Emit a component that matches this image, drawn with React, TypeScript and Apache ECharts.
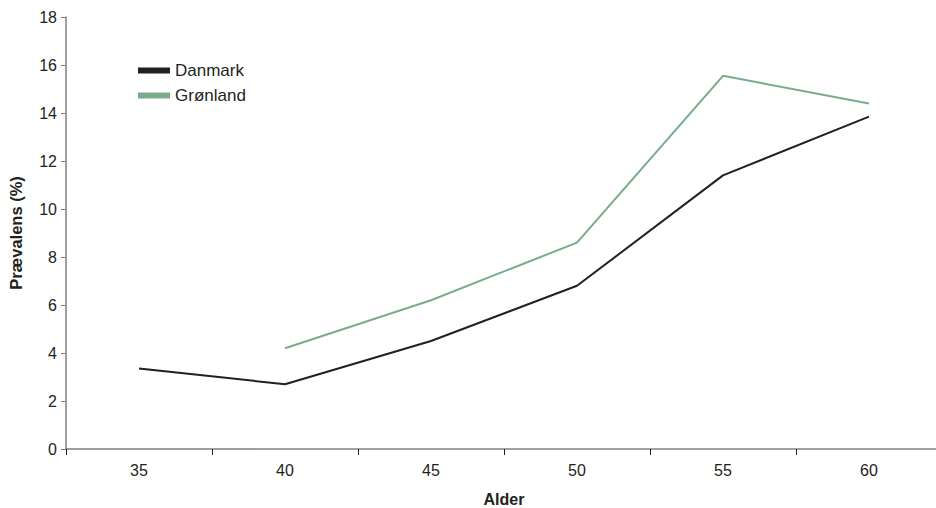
import React, { useEffect, useRef } from "react";
import * as echarts from "echarts";

const categories = ["35", "40", "45", "50", "55", "60"];
const danmark = [3.35, 2.7, 4.5, 6.8, 11.4, 13.85];
const gronland: (number | null)[] = [null, 4.2, 6.2, 8.6, 15.55, 14.4];

export default function App() {
  const ref = useRef<HTMLDivElement>(null);
  useEffect(() => {
    if (!ref.current) return;
    const chart = echarts.init(ref.current, null, { renderer: "svg" });
    const font = "'Liberation Sans', Arial, sans-serif";
    chart.setOption({
      animation: false,
      backgroundColor: "#ffffff",
      textStyle: { fontFamily: font },
      grid: { left: 66, right: -6, top: 17, bottom: 59, containLabel: false, outerBoundsMode: "none" },
      legend: {
        orient: "vertical",
        left: 138,
        top: 62,
        padding: 0,
        itemWidth: 32,
        itemHeight: 6,
        itemGap: 8,
        icon: "rect",
        textStyle: { fontSize: 17, color: "#231f20", fontFamily: font, lineHeight: 17 },
        data: ["Danmark", "Grønland"],
      },
      xAxis: {
        type: "category",
        data: categories,
        boundaryGap: true,
        name: "Alder",
        nameLocation: "middle",
        nameGap: 42,
        nameTextStyle: { fontSize: 16, fontWeight: "bold", color: "#231f20", fontFamily: font, lineHeight: 16 },
        axisLine: { lineStyle: { color: "#808080", width: 1.5 } },
        axisTick: { show: true, length: 6, inside: false, lineStyle: { color: "#231f20" }, alignWithLabel: false },
        axisLabel: { fontSize: 16, color: "#231f20", margin: 13, fontFamily: font },
        splitLine: { show: false },
      },
      yAxis: {
        type: "value",
        min: 0,
        max: 18,
        interval: 2,
        name: "Prævalens (%)",
        nameLocation: "middle",
        nameRotate: 90,
        nameGap: 42,
        nameTextStyle: { fontSize: 16.5, fontWeight: "bold", color: "#231f20", fontFamily: font },
        axisLine: { show: true, lineStyle: { color: "#808080", width: 1.5 } },
        axisTick: { show: true, length: 5, lineStyle: { color: "#808080" } },
        axisLabel: { fontSize: 16, color: "#231f20", margin: 9, fontFamily: font },
        splitLine: { show: false },
      },
      series: [
        {
          name: "Danmark",
          type: "line",
          data: danmark,
          symbol: "none",
          lineStyle: { color: "#231f20", width: 2 },
          itemStyle: { color: "#231f20" },
        },
        {
          name: "Grønland",
          type: "line",
          data: gronland,
          symbol: "none",
          connectNulls: false,
          lineStyle: { color: "#7aab8c", width: 2 },
          itemStyle: { color: "#7aab8c" },
        },
      ],
    });
    return () => chart.dispose();
  }, []);
  return (
    <div
      ref={ref}
      style={{ position: "fixed", left: 0, top: 0, width: 936, height: 508, background: "#fff" }}
    />
  );
}
